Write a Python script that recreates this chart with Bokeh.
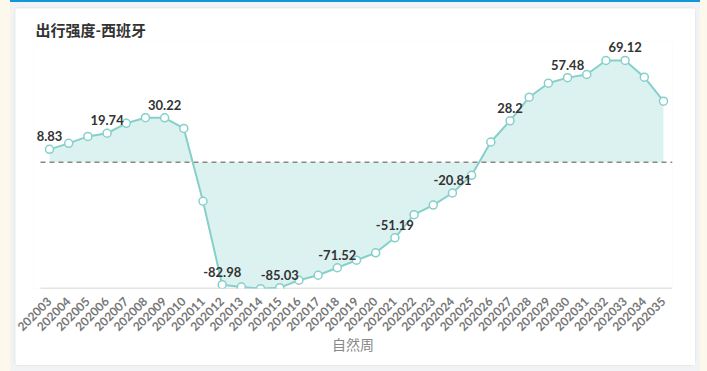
import math
from bokeh.plotting import figure
from bokeh.models import ColumnDataSource, Range1d, LabelSet
from bokeh.core.properties import value
from bokeh.layouts import column
from bokeh.embed import file_html
from bokeh.resources import INLINE

title_text = "出行强度-西班牙"
x_title = "自然周"
weeks = ["202003", "202004", "202005", "202006", "202007", "202008", "202009",
         "202010", "202011", "202012", "202013", "202014", "202015", "202016",
         "202017", "202018", "202019", "202020", "202021", "202022", "202023",
         "202024", "202025", "202026", "202027", "202028", "202029", "202030",
         "202031", "202032", "202033", "202034", "202035"]
values = [8.83, 12.9, 17.6, 19.74, 26.5, 30.3, 30.22,
          23.0, -26.4, -82.98, -84.6, -85.7, -85.03, -80.0,
          -76.6, -71.52, -66.4, -61.4, -51.19, -35.5, -29.0,
          -20.81, -8.8, 13.8, 28.2, 44.2, 53.7, 57.48,
          59.6, 69.1, 69.12, 57.8, 41.5]
label_step = 3

xs = list(range(len(weeks)))
src = ColumnDataSource(dict(x=xs, y=values))
lab_idx = [i for i in xs if i % label_step == 0]
lab_src = ColumnDataSource(dict(x=[xs[i] for i in lab_idx],
                                y=[values[i] for i in lab_idx],
                                t=[f"{values[i]:g}" for i in lab_idx]))

line_c = "#86d0ca"
fill_c = "#dcf2f1"

y_lo, y_hi = -85.6, 82.0
x_lo, x_hi = -0.47, len(weeks) - 1 + 0.47

p = figure(width=680, height=357, output_backend="svg", toolbar_location=None,
           x_range=Range1d(-0.834, x_hi),
           y_range=Range1d(y_lo, y_hi),
           min_border_left=18, min_border_right=23,
           min_border_bottom=77, min_border_top=33)
p.title.text = title_text
p.title.text_font = "Lato, 'Noto Sans CJK SC'"
p.title.text_font_size = "15px"
p.title.text_font_style = "bold"
p.title.text_color = "#333333"
p.title.align = "left"
p.title.offset = 2
p.title.standoff = 5

p.varea(x="x", y1=0, y2="y", source=src, fill_color=fill_c, fill_alpha=1.0)
# zero reference line and axis baseline
p.segment(x0=[x_lo], y0=[0], x1=[x_hi], y1=[0], line_color="#888888",
          line_dash="5 4", line_width=1.5)
p.segment(x0=[x_lo], y0=[y_lo], x1=[x_hi], y1=[y_lo], line_color="#cccccc",
          line_width=1.5)
p.line(x="x", y="y", source=src, line_color=line_c, line_width=2)
p.scatter(x="x", y="y", source=src, size=8, fill_color="white",
          line_color=line_c, line_width=1.5)
p.add_layout(LabelSet(x="x", y="y", text="t", source=lab_src,
                      text_align="center", text_baseline="alphabetic",
                      y_offset=8, text_font_size="13px",
                      text_font_style="bold", text_color="#333333",
                      text_font=value("Lato")))

p.yaxis.visible = False
p.xgrid.visible = False
p.ygrid.visible = False
p.outline_line_color = None
p.background_fill_color = "white"
p.border_fill_color = "white"

ax = p.xaxis[0]
ax.ticker = xs
ax.major_label_overrides = {i: w for i, w in zip(xs, weeks)}
ax.major_label_orientation = math.pi / 4
ax.major_label_text_font = "Lato"
ax.major_label_text_font_size = "12px"
ax.major_label_text_font_style = "bold"
ax.major_label_text_color = "#777777"
ax.major_tick_line_color = None
ax.minor_tick_line_color = None
ax.axis_line_color = None
ax.axis_label = x_title
ax.axis_label_standoff = -4
ax.axis_label_text_font = "'Noto Sans CJK SC'"
ax.axis_label_text_font_size = "14px"
ax.axis_label_text_font_style = "normal"
ax.axis_label_text_color = "#888888"

p.styles = {"border-radius": "4px", "box-shadow": "0 0 3px rgba(0,0,0,0.10)"}

inner = column(p, styles={"background-color": "#f2f3f5",
                          "border-top": "2px solid #1296db",
                          "padding": "6px 5px 6px 5px"})
outer = column(inner, styles={"background-color": "#fdf8ec",
                              "padding-left": "10px", "padding-right": "7px"})

open("out.html", "w").write(file_html(outer, INLINE))
